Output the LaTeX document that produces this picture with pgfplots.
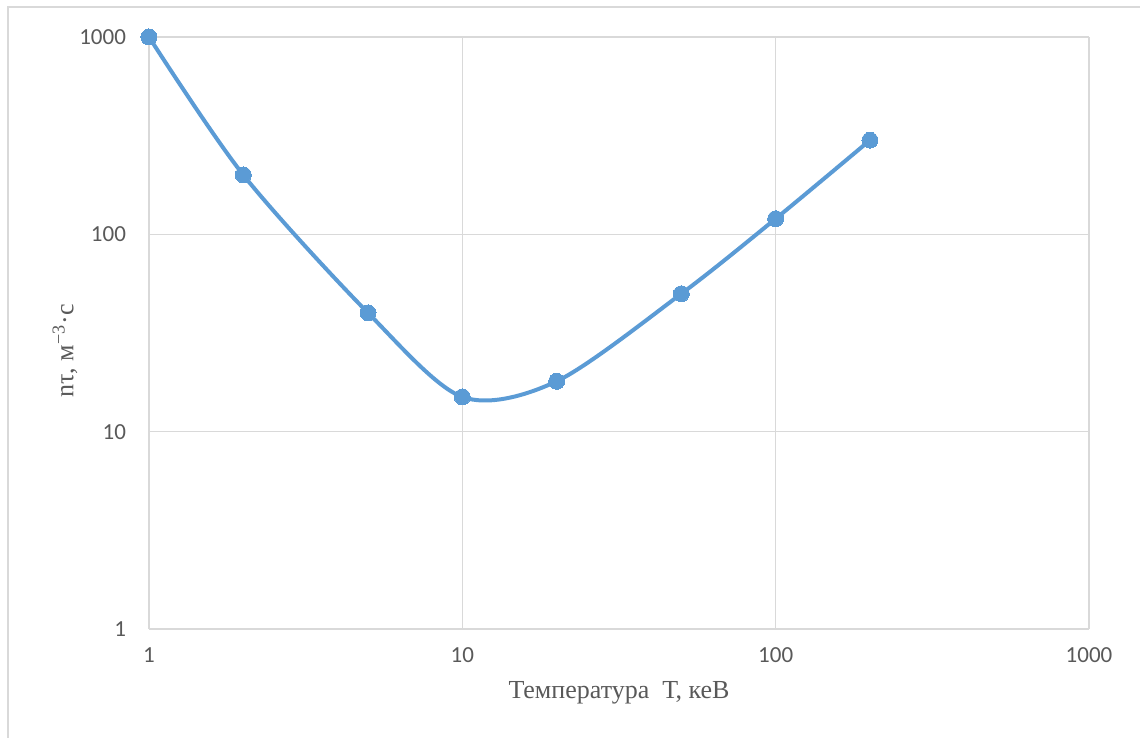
\documentclass[border=0pt]{standalone}
\usepackage{fontspec}
\setmainfont{Liberation Serif}
\newfontfamily\calibri{Carlito}
\usepackage{pgfplots}
\pgfplotsset{compat=1.18}

\definecolor{excelblue}{HTML}{5B9BD5}
\definecolor{gridgray}{HTML}{D9D9D9}
\definecolor{axisgray}{HTML}{BFBFBF}
\definecolor{textgray}{HTML}{595959}

\begin{document}
\begin{tikzpicture}
% 1 px of the reference = 0.5pt
\path[use as bounding box] (-74.5pt,-54.5pt) rectangle (495.5pt,314.5pt);
% chart area border (runs off right and bottom)
\draw[gridgray, line width=1pt] (-70.5pt,-54.5pt) -- (-70.5pt,311pt) -- (495.5pt,311pt);
\begin{axis}[
  at={(0,0)}, anchor=south west,
  scale only axis,
  width=470pt, height=296pt,
  xmode=log, ymode=log,
  xmin=1, xmax=1000, ymin=1, ymax=1000,
  xtick={1,10,100,1000}, xticklabels={1,10,100,1000},
  ytick={1,10,100,1000}, yticklabels={1,10,100,1000},
  minor xtick={}, minor ytick={},
  major tick length=0pt, minor tick length=0pt,
  grid=major,
  major grid style={gridgray, line width=0.8pt},
  axis line style={draw=none},
  separate axis lines,
  axis x line*=bottom, axis y line*=left,
  x axis line style={axisgray, line width=1pt},
  y axis line style={axisgray, line width=1pt},
  tick label style={font=\calibri\fontsize{11.5}{13}\selectfont, text=textgray},
  /pgf/number format/assume math mode=true,
  xticklabel style={yshift=-6pt},
  yticklabel style={xshift=-8pt},
  xlabel={Температура\ \ Т, кеВ},
  ylabel={nτ, м\textsuperscript{−3}·с},
  label style={font=\fontsize{13}{15}\selectfont, text=textgray},
  xlabel style={at={(axis description cs:0.5,0)}, anchor=center, yshift=-32pt},
  ylabel style={at={(axis description cs:0,0.47)}, anchor=center, rotate=0, yshift=42pt},
  clip=false,
]
\addplot[excelblue, line width=2pt, smooth, mark=*, mark size=4pt,
  mark options={fill=excelblue, draw=excelblue, line width=0pt}]
  coordinates {(1,1000) (2,200) (5,40) (10,15) (20,18) (50,50) (100,120) (200,300)};
\end{axis}
\end{tikzpicture}
\end{document}
